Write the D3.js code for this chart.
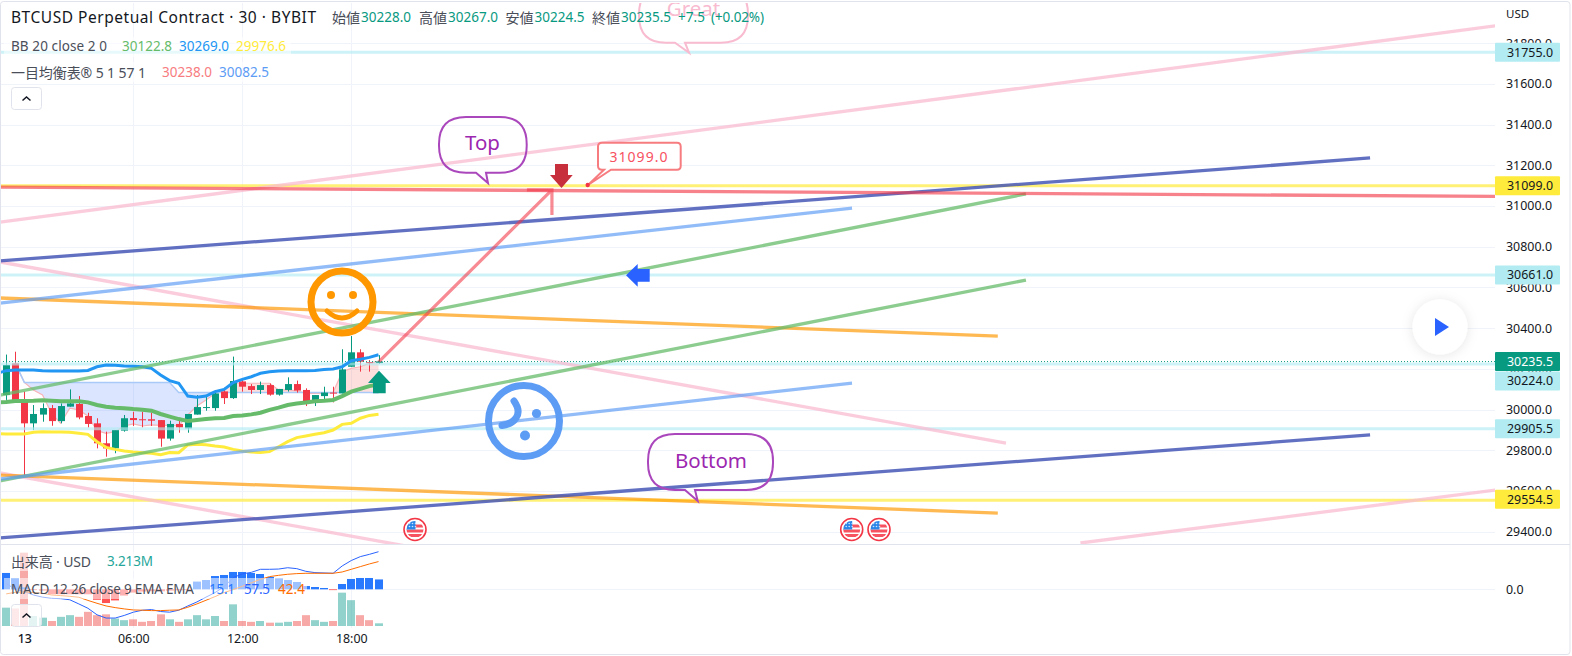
<!DOCTYPE html>
<html><head><meta charset="utf-8">
<script src="https://cdn.jsdelivr.net/npm/d3@7/dist/d3.min.js"></script>
<style>html,body{margin:0;padding:0;background:#fff;overflow:hidden}svg{display:block}text{font-family:"Noto Sans","Noto Sans CJK JP",sans-serif}</style>
</head><body><div id="c"></div>
<script>
const opens=[30071,30227,30047,29932,29975,30007,29943,30014,30027,29968,29932,29834,29809,29896,29958,29952,29952,29948,29857,29929,29907,29975,30011,30007,30089,30056,30138,30115,30096,30120,30073,30096,30125,30096,30043,30066,30083,30079,30210,30281,30233,30228];
const closes=[30219,30047,29932,29978,30007,29943,30017,30030,29961,29929,29834,29809,29899,29957,29948,29948,29945,29857,29929,29912,29978,30012,30012,30079,30056,30140,30112,30096,30120,30073,30101,30125,30093,30040,30071,30083,30080,30197,30281,30235,30230,30235.5];
const highs=[30270,30284,30088,30022,30030,30022,30030,30099,30066,29984,29957,29891,29899,29973,29989,29989,29984,29948,29945,29948,29978,30071,30063,30096,30107,30260,30153,30125,30137,30128,30101,30158,30142,30104,30071,30112,30112,30296,30361,30296,30243,30267];
const lows=[30047,30040,29670,29899,29940,29920,29932,30014,29952,29912,29809,29768,29785,29891,29919,29912,29919,29817,29847,29886,29886,29975,29994,29994,30027,30052,30088,30076,30076,30068,30068,30088,30083,30017,30017,30050,30035,30079,30210,30186,30186,30224.5];
// the three Bollinger series start one bar before the first visible candle
const bbUpper=[30178,30191,30194,30194,30194,30191,30189,30189,30189,30189,30192,30210,30219,30217,30214,30212,30210,30202,30170,30142,30129,30066,30060,30066,30088,30099,30132,30148,30161,30178,30186,30189,30191,30191,30191,30192,30197,30199,30210,30240,30247,30256,30269];
const bbMid=[30035,30037,30042,30042,30043,30045,30043,30040,30040,30040,30035,30022,30014,30009,30006,30002,29999,29994,29978,29965,29953,29943,29948,29953,29957,29958,29968,29971,29976,29984,29998,30009,30022,30029,30034,30040,30043,30047,30066,30088,30101,30115,30122.8];
const bbLower=[29882,29880,29880,29880,29888,29891,29889,29889,29888,29883,29878,29842,29814,29804,29796,29791,29788,29785,29778,29789,29788,29826,29829,29827,29821,29816,29804,29796,29791,29789,29793,29817,29842,29862,29870,29878,29886,29899,29927,29932,29957,29971,29976.6];
const spanA=[30227,30227,30133,30096,30071,29981,29932,30006,29998,29968,29896,29883,29891,29919,29929,29919,29924,29922,29922,29919,29973,30017,30047,30079,30096,30129,30129,30129,30129,30129,30096,30096,30092,30079,30079,30079,30084,30186,30202,30210,30227,30238];
const spanB=[30227,30227,30133,30133,30133,30133,30133,30133,30133,30133,30133,30133,30133,30133,30133,30133,30133,30133,30133,30084,30084,30084,30084,30084,30084,30084,30084,30084,30084,30084,30084,30084,30084,30084,30084,30084,30084,30084,30084,30084,30084,30082.5];
const volumes=[22,21,88,12,10,6,11,13,11,17,13,14,9,7,8,5,6,14,8,5,8,13,8,12,6,26,6,5,6,4,4,5,6,13,7,5,6,40,31,13,7,3.213];
const macdHist=[25,17,3,-1,-2,-7.6,-7.6,-7.6,-7.6,-7.6,-16,-21,-17,-9.6,-5,-3.5,-3,-3,-2,-1.5,-1,11.8,14.2,20.3,21.9,26.5,26.5,25,23.4,18.8,16.8,14.2,11.2,5,3.5,2,-1.1,8.1,15.8,17.3,17.3,15.1];
const macdLine=[9,0,-3.6,-8.7,-12,-13.8,-14.3,-16,-22.4,-29,-39,-44,-44,-40,-35,-32,-31,-34,-35,-32,-25.5,-19.4,-12,-5,4,18,23.5,26,30.6,30.6,31,33,31.6,27.5,25.5,25,24.5,35.7,44,50,53.5,57.5];
const macdSignal=[-7,-4.6,-4,-5,-6,-8.7,-9.7,-10.7,-12.2,-17,-21.4,-25.5,-28,-30,-31.6,-32,-32.6,-32.6,-32,-31.6,-27.5,-22.4,-16.8,-11.2,-5,-0.5,4.6,10,15.3,19.4,21.4,23,24,24.5,24.5,24.5,24.5,26.5,30.6,34.7,38.8,42.4];
const priceTicks=[31800,31600,31400,31200,31000,30800,30600,30400,30200,30000,29800,29600,29400];
const timeTickIdx=[2,14,26,38];
const timeTickLabels=["13","06:00","12:00","18:00"];
const hLineCyan=[31755,30661,30224,29905.5];
const hLineYellow=[31099,29554.5];
// trend lines: [candle index, price, candle index, price]
const linesDarkBlue=[[-0.68,30730,150.2,31236],[-0.68,29369,150.2,29875]];
const linesLightBlue=[[-0.68,30523,93.15,30990],[-0.68,29658.5,93.15,30130]];
const linesGreen=[[-0.68,30071,112.3,31059],[-0.68,29649,112.3,30636]];
const linesOrange=[[-0.68,30548,109.2,30361],[-0.68,29678,109.2,29491]];
const linesPink=[[-0.68,30921,164,31885],[118.3,29344,164,29604],[-0.68,30725,110.1,29835],[-0.68,29688,54.4,29246]];
const linesRed=[[-0.68,31093,164,31047]];
const arrowLine=[41.05,30235,60.1,31079];
const priceLabels=[["31755.0",31755,"#b2ebf2","#131722",0],["31099.0",31099,"#ffeb3b","#131722",0],["30661.0",30661,"#b2ebf2","#131722",0],["30235.5",30235.5,"#089981","#ffffff",0],["30224.0",30224,"#b2ebf2","#131722",17],["29905.5",29905.5,"#b2ebf2","#131722",0],["29554.5",29554.5,"#ffeb3b","#131722",-1]];

const W=1572,H=656,PR=1495;
const x=d3.scaleLinear().domain([0,41]).range([6.2,378.5]);
const y=d3.scaleLinear().domain([30000,31800]).range([409.5,43.2]);
const yVol=d3.scaleLinear().domain([0,90]).range([626,551]);
const yM=d3.scaleLinear().domain([0,15.3]).range([589.3,579.3]);
const svg=d3.select("#c").append("svg").attr("width",W).attr("height",H);
const defs=svg.append("defs");
defs.append("clipPath").attr("id","main").append("rect").attr("x",0).attr("y",3).attr("width",PR).attr("height",541);
const fl=defs.append("filter").attr("id","sh").attr("x","-40%").attr("y","-40%").attr("width","180%").attr("height","180%");
fl.append("feDropShadow").attr("dx",0).attr("dy",1).attr("stdDeviation",6).attr("flood-color","#000").attr("flood-opacity",0.1);
const idx=d3.range(42);

// grid
const grid=svg.append("g").attr("stroke","#f0f3fa").attr("stroke-width",1);
priceTicks.forEach(p=>grid.append("line").attr("x1",0).attr("x2",PR).attr("y1",Math.round(y(p))+.5).attr("y2",Math.round(y(p))+.5));
grid.append("line").attr("x1",0).attr("x2",PR).attr("y1",589.5).attr("y2",589.5);
timeTickIdx.slice(1).forEach(i=>grid.append("line").attr("x1",Math.round(x(i))+.5).attr("x2",Math.round(x(i))+.5).attr("y1",3).attr("y2",628));

// cloud
const main=svg.append("g").attr("clip-path","url(#main)");
const cd=idx.filter(i=>i>=1);
main.append("path").attr("fill","#2962ff").attr("fill-opacity",.17).attr("d",d3.area().x(i=>x(i)).y0(i=>y(spanB[i])).y1(i=>y(Math.min(spanA[i],spanB[i])))(cd));
main.append("path").attr("fill","#f44336").attr("fill-opacity",.17).attr("d",d3.area().x(i=>x(i)).y0(i=>y(spanB[i])).y1(i=>y(Math.max(spanA[i],spanB[i])))(cd));
main.append("path").attr("fill","none").attr("stroke","#f7b5b8").attr("stroke-width",1.2).attr("d",d3.line().x(i=>x(i)).y(i=>y(spanA[i]))(cd));
main.append("path").attr("fill","none").attr("stroke","#a9c9f8").attr("stroke-width",1.5).attr("d",d3.line().x(i=>x(i)).y(i=>y(spanB[i]))(cd));

// candles
const up="#089981",dn="#f23645";
const col=i=>closes[i]>=opens[i]?up:dn;
main.append("g").selectAll("line").data(idx).join("line").attr("x1",i=>Math.round(x(i))+.5).attr("x2",i=>Math.round(x(i))+.5).attr("y1",i=>y(highs[i])).attr("y2",i=>y(lows[i])).attr("stroke",col);
main.append("g").selectAll("rect").data(idx).join("rect").attr("x",i=>Math.round(x(i))-3).attr("width",7).attr("y",i=>y(Math.max(opens[i],closes[i]))).attr("height",i=>Math.max(1,Math.abs(y(opens[i])-y(closes[i])))).attr("fill",col);

// last price dotted
main.append("line").attr("x1",0).attr("x2",PR).attr("y1",y(30235.5)).attr("y2",y(30235.5)).attr("stroke","#089981").attr("stroke-dasharray","1 2");

// horizontal lines
hLineCyan.forEach(p=>main.append("line").attr("x1",0).attr("x2",PR).attr("y1",y(p)).attr("y2",y(p)).attr("stroke","#b2ebf2").attr("stroke-opacity",.65).attr("stroke-width",3));

// BB
const ln=a=>d3.line().x((d,i)=>x(i-1)).y(d=>y(d))(a);
main.append("path").attr("d",ln(bbLower)).attr("fill","none").attr("stroke","#ffeb3b").attr("stroke-width",3);
main.append("path").attr("d",ln(bbMid)).attr("fill","none").attr("stroke","#66bb6a").attr("stroke-width",4);
main.append("path").attr("d",ln(bbUpper)).attr("fill","none").attr("stroke","#2196f3").attr("stroke-width",3);

// trend lines
function tl(arr,c,w,o){arr.forEach(l=>main.append("line").attr("x1",x(l[0])).attr("y1",y(l[1])).attr("x2",x(l[2])).attr("y2",y(l[3])).attr("stroke",c).attr("stroke-width",w).attr("stroke-opacity",o));}
hLineYellow.forEach(p=>main.append("line").attr("x1",0).attr("x2",PR).attr("y1",y(p)).attr("y2",y(p)).attr("stroke","#ffeb3b").attr("stroke-opacity",.7).attr("stroke-width",3));
tl(linesPink,"#f8bbd0",3.3,.75);
tl(linesOrange,"#ff9800",3.3,.68);
tl(linesGreen,"#66bb6a",3.3,.75);
tl(linesLightBlue,"#5d9cf5",3.3,.68);
tl(linesDarkBlue,"#3f51b5",3.3,.82);
tl(linesRed,"#f23645",3.3,.62);
// red arrow
const ax=x(arrowLine[2]),ay=y(arrowLine[3]);
main.append("path").attr("d",`M${x(arrowLine[0])},${y(arrowLine[1])}L${ax},${ay}M${ax-25},${ay}L${ax},${ay}L${ax},${ay+25}`).attr("fill","none").attr("stroke","#f23645").attr("stroke-opacity",.58).attr("stroke-width",3.2);

// smile
const sm=main.append("g").attr("transform","translate(342,302)").attr("stroke","#ff9800").attr("fill","none");
sm.append("circle").attr("r",31).attr("stroke-width",7);
sm.append("path").attr("d","M-15,9Q0,23 15,9").attr("stroke-width",5).attr("stroke-linecap","round");
sm.append("circle").attr("cx",-11).attr("cy",-7).attr("r",4).attr("fill","#ff9800").attr("stroke","none");
sm.append("circle").attr("cx",11).attr("cy",-7).attr("r",4).attr("fill","#ff9800").attr("stroke","none");
// sad face (rotated)
const sd=main.append("g").attr("transform","translate(524,421)").attr("stroke","#5d9cf5").attr("fill","none");
sd.append("circle").attr("r",35.5).attr("stroke-width",7);
sd.append("path").attr("d","M-10,-20Q-3,-10 -8,-3Q-12,3 -22,4.5").attr("stroke-width",7).attr("stroke-linecap","round");
sd.append("circle").attr("cx",12.5).attr("cy",-7.5).attr("r",4.6).attr("fill","#5d9cf5").attr("stroke","none");
sd.append("circle").attr("cx",1).attr("cy",14.5).attr("r",5).attr("fill","#5d9cf5").attr("stroke","none");

// arrows
main.append("path").attr("fill",up).attr("d","M379,370.7L390.7,383H385.7V393.3H373V383H368Z");
main.append("path").attr("fill","#c62f3b").attr("d","M555,164H568V175H572.7L561.5,188L550,175H555Z");
main.append("path").attr("fill","#2962ff").attr("d","M626,275.3L637.7,264V269H649.7V281.7H637.7V286.7Z");

// callouts
function bubble(x0,y0,x1,y1,r,t0,t1,tx,ty,c,tc,label,cx,cy,fs){
 const d=`M${x0+r},${y0}H${x1-r}Q${x1},${y0} ${x1},${y0+r}V${y1-r}Q${x1},${y1} ${x1-r},${y1}H${t1}L${tx},${ty}L${t0},${y1}H${x0+r}Q${x0},${y1} ${x0},${y1-r}V${y0+r}Q${x0},${y0} ${x0+r},${y0}Z`;
 main.append("path").attr("d",d).attr("fill","none").attr("stroke",c).attr("stroke-width",2);
 main.append("text").attr("x",cx).attr("y",cy).attr("text-anchor","middle").attr("dominant-baseline","central").attr("font-size",fs).attr("fill",tc).text(label);
}
bubble(439,117,526.7,172.7,27,476,486,488,183,"#ab47bc","#9c27b0","Top",482.5,142,20.5);
bubble(648,434,773,490,27,685,695,697.7,501,"#ab47bc","#9c27b0","Bottom",711,460,20.5);
bubble(639,-13,748,42.7,27,675,685,689,52.7,"#f8bbd0","#f8bbd0","Great",693.5,8,20.5);
// price note
main.append("path").attr("d","M602,142.7H677Q680.7,142.7 680.7,146.5V166Q680.7,169.7 677,169.7H611L588,185L604,169.7H602Q598,169.7 598,166V146.5Q598,142.7 602,142.7Z").attr("fill","#fff").attr("stroke","#f77c80").attr("stroke-width",2);
main.append("circle").attr("cx",587.7).attr("cy",185).attr("r",2.2).attr("fill","#f23645");
main.append("text").attr("x",639).attr("y",156).attr("text-anchor","middle").attr("dominant-baseline","central").attr("font-size",14).attr("letter-spacing",1).attr("fill","#f7525f").text("31099.0");

// flags
[415,851.7,879].forEach((cx,k)=>{
 const g=svg.append("g").attr("transform",`translate(${cx},529.5)`);
 defs.append("clipPath").attr("id","fc"+k).append("circle").attr("r",8.5);
 g.append("circle").attr("r",11).attr("fill","#fff").attr("stroke","#f23645").attr("stroke-width",1.6);
 const f=g.append("g").attr("clip-path",`url(#fc${k})`);
 [-3.5,1.5,6].forEach(v=>f.append("rect").attr("x",-9).attr("y",v-1.5).attr("width",18).attr("height",3).attr("fill","#f7525f"));
 f.append("rect").attr("x",-9).attr("y",-9).attr("width",9.5).attr("height",9).attr("fill","#2a86e8");
 [-6,-3,0].forEach(a=>[-6,-3].forEach(b=>f.append("circle").attr("cx",a+.5).attr("cy",b).attr("r",.8).attr("fill","#cfe3fb")));
});

// lower pane
const low=svg.append("g");
low.append("g").selectAll("rect").data(idx).join("rect").attr("x",i=>Math.round(x(i))-4).attr("width",8).attr("y",i=>yVol(volumes[i])).attr("height",i=>626-yVol(volumes[i])).attr("fill",i=>col(i)==up?"#26a69a":"#ef5350").attr("fill-opacity",.5);
low.append("g").selectAll("rect").data(idx).join("rect").attr("x",i=>Math.round(x(i))-4).attr("width",8).attr("y",i=>Math.min(yM(macdHist[i]),yM(0))).attr("height",i=>Math.max(.8,Math.abs(yM(macdHist[i])-yM(0)))).attr("fill",i=>macdHist[i]>=0?"#2979ff":"#ff5252");
const lm=a=>d3.line().x((d,i)=>x(i)).y(d=>yM(d))(a);
low.append("path").attr("d",lm(macdLine)).attr("fill","none").attr("stroke","#2962ff").attr("stroke-width",1);
low.append("path").attr("d",lm(macdSignal)).attr("fill","none").attr("stroke","#ff6d00").attr("stroke-width",1);

// axes
const axY=d3.axisRight(y).tickValues(priceTicks).tickSize(0).tickFormat(d3.format(".1f"));
const gy=svg.append("g").attr("transform","translate(1506,0)").call(axY);
gy.select(".domain").remove();
gy.selectAll("text").attr("x",0).attr("font-size",12.4).attr("fill","#131722").attr("text-anchor","start").attr("textLength",46).attr("font-family",null);
svg.append("text").attr("x",1506).attr("y",589.5).attr("dominant-baseline","central").attr("font-size",12.4).attr("fill","#131722").text("0.0");
svg.append("text").attr("x",1506).attr("y",18).attr("font-size",11.5).attr("fill","#131722").text("USD");
const fmtTime=d=>timeTickLabels[timeTickIdx.indexOf(d)];
const axX=d3.axisBottom(x).tickValues(timeTickIdx).tickSize(0).tickFormat(fmtTime);
const gx=svg.append("g").attr("transform","translate(0,632)").call(axX);
gx.select(".domain").remove();
gx.selectAll("text").attr("font-size",12.4).attr("fill","#131722").attr("y",2).attr("dy",".71em");
gx.selectAll("text").filter(d=>d===2).attr("font-weight",500);

// price labels
priceLabels.forEach(l=>{
 const cy=y(l[1])+l[4];
 svg.append("rect").attr("x",PR).attr("y",cy-9.5).attr("width",65).attr("height",19).attr("rx",1).attr("fill",l[2]);
 svg.append("text").attr("x",1507).attr("y",cy).attr("dominant-baseline","central").attr("font-size",12.4).attr("textLength",46).attr("fill",l[3]).text(l[0]);
});

// legends
function ov(a,b,w,h){svg.append("rect").attr("x",a).attr("y",b).attr("width",w).attr("height",h).attr("fill","#fff").attr("fill-opacity",.55);}
ov(4,37,287,20);ov(4,62,265,20);ov(4,552,170,19);ov(4,578,303,21);
function t(xp,yp,s,c,fs,w){const e=svg.append("text").attr("x",xp).attr("y",yp).attr("dominant-baseline","central").attr("font-size",fs||13).attr("fill",c).text(s);if(w)e.attr("textLength",w);return e;}
t(11,17,"BTCUSD Perpetual Contract · 30 · BYBIT","#131722",15.5,305);
const g1="#089981",gr="#4a4e59";
[["始値",332,"30228.0"],["高値",419,"30267.0"],["安値",505.5,"30224.5"],["終値",592,"30235.5"]].forEach(a=>{t(a[1],17,a[0],gr,14);t(a[1]+29,17,a[2],g1,13.5,50);});
t(678,17,"+7.5",g1,13.5,27);
t(711,17,"(+0.02%)",g1,13.5,53);
t(11,46,"BB 20 close 2 0",gr,13.5,96);
t(122,46,"30122.8","#66bb6a",13.5,50);
t(179,46,"30269.0","#2196f3",13.5,50);
t(236,46,"29976.6","#ffeb3b",13.5,50);
t(11,72,"一目均衡表® 5 1 57 1",gr,14,135);
t(162,72,"30238.0","#f77c80",13.5,50);
t(219,72,"30082.5","#5d9cf5",13.5,50);
t(11,561,"出来高 · USD",gr,14,80);
t(107,561,"3.213M","#26a69a",13.5,46);
t(11,589,"MACD 12 26 close 9 EMA EMA",gr,13.5,183);
t(209,589,"15.1","#2979ff",13.5,26);
t(244,589,"57.5","#2962ff",13.5,26);
t(278,589,"42.4","#ff6d00",13.5,27);

// chevron buttons
[[11.5,87.5],[11.5,604.5]].forEach(b=>{
 svg.append("rect").attr("x",b[0]).attr("y",b[1]).attr("width",30).attr("height",22).attr("rx",3).attr("fill","#fff").attr("fill-opacity",.75).attr("stroke","#e0e3eb");
 svg.append("path").attr("d",`M${b[0]+11},${b[1]+13}L${b[0]+15},${b[1]+9.5}L${b[0]+19},${b[1]+13}`).attr("fill","none").attr("stroke","#131722").attr("stroke-width",1.5);
});

// play
svg.append("circle").attr("cx",1440).attr("cy",327).attr("r",27.5).attr("fill","#fff").attr("filter","url(#sh)");
svg.append("path").attr("d","M1435,318L1449,327L1435,336Z").attr("fill","#2962ff");

// frame
svg.append("line").attr("x1",0).attr("x2",1570).attr("y1",544.5).attr("y2",544.5).attr("stroke","#e0e3eb");
svg.append("rect").attr("x",.5).attr("y",1.5).attr("width",1569.5).attr("height",653).attr("rx",3).attr("fill","none").attr("stroke","#e0e3eb");
</script></body></html>
